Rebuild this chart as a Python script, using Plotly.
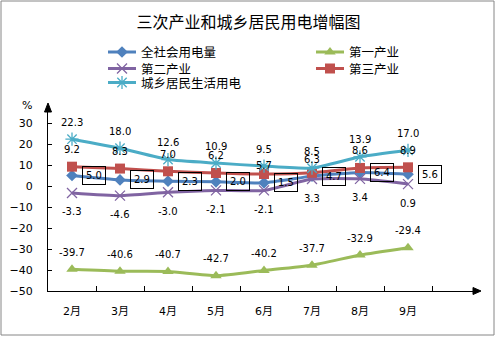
import plotly.graph_objects as go

# ---------------- data ----------------
months = ["2月", "3月", "4月", "5月", "6月", "7月", "8月", "9月"]
total_use = [5.0, 2.9, 2.3, 2.0, 1.5, 4.7, 6.4, 5.6]
primary_ind = [-39.7, -40.6, -40.7, -42.7, -40.2, -37.7, -32.9, -29.4]
secondary_ind = [-3.3, -4.6, -3.0, -2.1, -2.1, 3.3, 3.4, 0.9]
tertiary_ind = [9.2, 8.3, 7.0, 6.2, 5.7, 6.3, 8.6, 8.9]
residential = [22.3, 18.0, 12.6, 10.9, 9.5, 8.5, 13.9, 17.0]
y_tick_vals = [-50, -40, -30, -20, -10, 0, 10, 20, 30]
series_names = ["全社会用电量", "第一产业", "第二产业", "第三产业", "城乡居民生活用电"]

styles = [
    dict(color="#4F81BD", marker=dict(symbol="diamond", size=9), label="box", leg=(0, 0)),
    dict(color="#9BBB59", marker=dict(symbol="triangle-up", size=10), label="above", leg=(1, 0)),
    dict(color="#8064A2", marker=dict(symbol="x-thin-open", size=10, line=dict(width=1.3, color="#8064A2")),
         label="below", leg=(0, 1)),
    dict(color="#C0504D", marker=dict(symbol="square", size=10), label="above", leg=(1, 1)),
    dict(color="#4BACC6", marker=dict(symbol="asterisk-open", size=11, line=dict(width=1.3, color="#4BACC6")),
         label="above", leg=(0, 2)),
]
values = [total_use, primary_ind, secondary_ind, tertiary_ind, residential]
# a few data labels that sit closer to their point in the reference (series index, month) -> y shift
label_shift_override = {(3, "6月"): 9, (3, "7月"): 13}

W, H = 497, 337
L, R, B = 48, 24, 46
PLOT_TOP = 112          # pixel row of top of main plot area
cat_w = 48.0
px_per_unit = 2.1
plot_w = W - L - R
area_h = H - B          # paper spans 0..area_h (t=0)
main_h = area_h - PLOT_TOP
x_range = [-0.5, -0.5 + plot_w / cat_w]
y_range = [-50, -50 + main_h / px_per_unit]

# legend layout (pixel coordinates in the legend axes)
LEG_TOP, LEG_BOT = 40, 95
leg_col_x = [108, 316]
leg_row_y = [52, 68.5, 82.5]
leg_line_len = 28

fig = go.Figure()
annotations = []
for si, (name, vals, s) in enumerate(zip(series_names, values, styles)):
    fig.add_trace(go.Scatter(
        x=months, y=vals, name=name, mode="lines+markers", showlegend=False,
        line=dict(color=s["color"], width=3, shape="spline", smoothing=0.5),
        marker=dict(color=s["color"], **s["marker"]),
        xaxis="x", yaxis="y",
    ))
    for m, v in zip(months, vals):
        a = dict(x=m, y=v, xref="x", yref="y", text=f"{v:.1f}", showarrow=False,
                 font=dict(family="DejaVu Sans", size=10, color="black"))
        if s["label"] == "above":
            a.update(yshift=label_shift_override.get((si, m), 17))
        elif s["label"] == "below":
            a.update(yshift=-19)
        else:
            a.update(xshift=22, bordercolor="black", borderwidth=1, borderpad=3)
        annotations.append(a)

    # custom legend key (line + marker) and text
    col, row = s["leg"]
    x0 = leg_col_x[col]
    yy = leg_row_y[row]
    fig.add_trace(go.Scatter(
        x=[x0, x0 + leg_line_len / 2, x0 + leg_line_len], y=[yy, yy, yy],
        mode="lines", showlegend=False, hoverinfo="skip",
        line=dict(color=s["color"], width=3), xaxis="x2", yaxis="y2"))
    fig.add_trace(go.Scatter(
        x=[x0 + leg_line_len / 2], y=[yy], mode="markers", showlegend=False, hoverinfo="skip",
        marker=dict(color=s["color"], **s["marker"]), xaxis="x2", yaxis="y2"))
    annotations.append(dict(x=x0 + leg_line_len + 3, y=yy, xref="x2", yref="y2", text=name,
                            showarrow=False, xanchor="left", yanchor="middle",
                            font=dict(family="Noto Sans CJK SC", size=12.5, color="black")))


def px_to_paper_x(px):
    return (px - L) / plot_w


def px_to_paper_y(py):
    return (area_h - py) / area_h


# "%" unit label
annotations.append(dict(x=px_to_paper_x(34), y=px_to_paper_y(105), xref="paper", yref="paper",
                        text="%", showarrow=False, xanchor="right", yanchor="middle",
                        font=dict(family="DejaVu Sans", size=11, color="black")))

main_top_paper = px_to_paper_y(PLOT_TOP)
shapes = [
    # outer chart border
    dict(type="rect", xref="paper", yref="paper",
         x0=px_to_paper_x(1), x1=px_to_paper_x(494), y0=px_to_paper_y(335), y1=px_to_paper_y(1),
         line=dict(color="#868686", width=1), layer="below"),
    # y axis arrow head
    dict(type="path", xref="paper", yref="paper", xsizemode="pixel", ysizemode="pixel",
         xanchor=0, yanchor=main_top_paper, path="M -3.5,0 L 3.5,0 L 0,9 Z",
         fillcolor="black", line=dict(color="black", width=1)),
    # x axis arrow head
    dict(type="path", xref="paper", yref="paper", xsizemode="pixel", ysizemode="pixel",
         xanchor=1, yanchor=0, path="M 0,-3.5 L 0,3.5 L 8,0 Z",
         fillcolor="black", line=dict(color="black", width=1)),
]

fig.update_layout(
    width=W, height=H,
    margin=dict(l=L, r=R, t=0, b=B, autoexpand=False),
    paper_bgcolor="white", plot_bgcolor="rgba(0,0,0,0)",
    font=dict(family="DejaVu Sans, Noto Sans CJK SC", size=11, color="black"),
    title=dict(text="三次产业和城乡居民用电增幅图", x=0.5, xref="container", xanchor="center",
               y=1 - 22 / H, yref="container", yanchor="middle",
               font=dict(family="Noto Sans CJK SC", size=16, color="black")),
    showlegend=False,
    xaxis=dict(type="category", categoryarray=months, categoryorder="array",
               range=x_range, showline=True, linecolor="black", linewidth=1.3,
               ticks="inside", ticklen=5, tickcolor="black", tickson="boundaries",
               showgrid=False, zeroline=False, ticklabelstandoff=10, fixedrange=True,
               tickfont=dict(family="DejaVu Sans, Noto Sans CJK SC", size=11)),
    yaxis=dict(range=y_range, domain=[0, main_top_paper], tickvals=y_tick_vals,
               showline=True, linecolor="black", linewidth=1.3,
               ticks="inside", ticklen=4, tickcolor="black", showgrid=False, zeroline=False,
               ticklabelstandoff=12, fixedrange=True,
               tickfont=dict(family="DejaVu Sans", size=11)),
    xaxis2=dict(domain=[0, 1], range=[L, W - R], visible=False, anchor="y2", fixedrange=True),
    yaxis2=dict(domain=[px_to_paper_y(LEG_BOT), px_to_paper_y(LEG_TOP)], range=[LEG_BOT, LEG_TOP],
                visible=False, anchor="x2", fixedrange=True),
    annotations=annotations,
    shapes=shapes,
)

fig.write_html("out.html")
